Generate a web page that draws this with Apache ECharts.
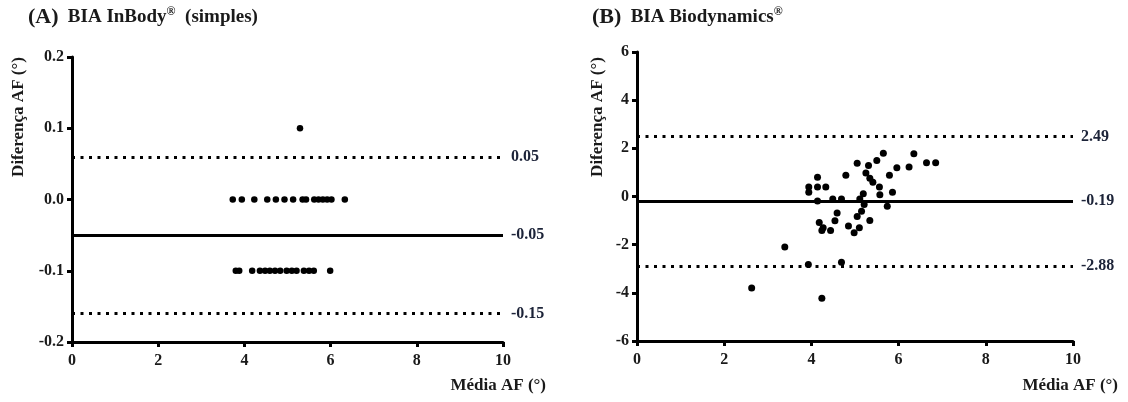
<!DOCTYPE html>
<html>
<head>
    <meta charset="utf-8">
    <title>Bland-Altman AF</title>
    <script src="https://cdn.jsdelivr.net/npm/echarts@6/dist/echarts.min.js"></script>
    <style>
        html, body { margin: 0; padding: 0; background: #fff; }
        #chart1 { width: 1128px; height: 402px; }
    </style>
</head>
<body>
<div id="chart1"></div>
<script type="text/javascript">
    // (A) InBody: media x diferenca
    var aX = [3.73, 3.94, 4.23, 4.53, 4.73, 4.93, 5.13, 5.35, 5.43, 5.62, 5.72, 5.82, 5.92, 6.02, 6.33,
              3.80, 3.88, 4.18, 4.36, 4.48, 4.59, 4.71, 4.83, 4.98, 5.10, 5.21, 5.38, 5.50, 5.61, 5.99,
              5.29];
    var aY = [0, 0, 0, 0, 0, 0, 0, 0, 0, 0, 0, 0, 0, 0, 0,
              -0.1, -0.1, -0.1, -0.1, -0.1, -0.1, -0.1, -0.1, -0.1, -0.1, -0.1, -0.1, -0.1, -0.1, -0.1,
              0.1];
    var aLines = [0.056, -0.05, -0.157];
    var aLineLabels = ['0.05', '-0.05', '-0.15'];

    // (B) Biodynamics
    var bX = [6.85, 6.64, 6.35, 6.24, 5.96, 5.79, 5.65, 5.50, 5.31, 5.05, 4.79, 5.25, 5.34, 5.41, 5.56,
              5.86, 5.57, 5.19, 5.11, 5.21, 5.15, 5.05, 5.34, 5.74, 5.10, 4.98, 4.85, 4.69, 4.49, 4.14,
              4.59, 4.54, 4.44, 4.27, 4.24, 4.18, 4.14, 4.14, 4.33, 3.94, 3.94, 3.39, 3.93, 4.69, 2.63,
              4.24];
    var bY = [1.40, 1.40, 1.78, 1.22, 1.19, 0.88, 1.80, 1.49, 1.29, 1.38, 0.88, 0.98, 0.76, 0.59, 0.39,
              0.18, 0.07, 0.11, -0.10, -0.33, -0.61, -0.83, -1.00, -0.41, -1.30, -1.51, -1.22, -0.10, -0.10, -0.19,
              -0.69, -1.01, -1.41, -1.30, -1.41, -1.08, 0.80, 0.39, 0.39, 0.39, 0.18, -2.10, -2.82, -2.73, -3.80,
              -4.22];
    var bLines = [2.49, -0.19, -2.88];
    var bLineLabels = ['2.49', '-0.19', '-2.88'];

    var xTicks = [0, 10, 2];

    function pairs(xs, ys) {
        return xs.map(function (v, i) { return [v, ys[i]]; });
    }

    var serif = '"Liberation Serif", "Times New Roman", serif';
    var txt = '#1a1a1a';

    function markLines(vals, labels) {
        return {
            symbol: 'none',
            silent: true,
            animation: false,
            label: {
                position: 'end', distance: 8, color: '#1c2338',
                fontFamily: serif, fontWeight: 'bold', fontSize: 16,
                formatter: function (p) { return labels[p.dataIndex]; }
            },
            data: vals.map(function (v, i) {
                return {
                    yAxis: v,
                    lineStyle: i === 1
                        ? { color: '#000', width: 3, type: 'solid' }
                        : { color: '#000', width: 3, type: [3, 5.5] }
                };
            })
        };
    }

    function xAxisCfg(idx) {
        return {
            gridIndex: idx, type: 'value', min: xTicks[0], max: xTicks[1], interval: xTicks[2],
            axisLine: { onZero: false, lineStyle: { color: '#000', width: 3 } },
            axisTick: { length: 5, lineStyle: { color: '#000', width: 3 } },
            axisLabel: { color: txt, fontFamily: serif, fontWeight: 'bold', fontSize: 16, margin: 11 },
            splitLine: { show: false }
        };
    }

    function yAxisCfg(idx, min, max, step, dec) {
        return {
            gridIndex: idx, type: 'value', min: min, max: max, interval: step,
            axisLine: { onZero: false, lineStyle: { color: '#000', width: 3 } },
            axisTick: { length: 5, lineStyle: { color: '#000', width: 3 } },
            axisLabel: {
                color: txt, fontFamily: serif, fontWeight: 'bold', fontSize: 16, margin: 8,
                formatter: function (v) { return v.toFixed(dec); }
            },
            splitLine: { show: false }
        };
    }

    var titleRich = {
        p: { fontFamily: serif, fontWeight: 'bold', fontSize: 22, fill: txt, padding: [0, 6, 0, 0] },
        b: { fontFamily: serif, fontWeight: 'bold', fontSize: 19, fill: txt },
        s: { fontFamily: serif, fontWeight: 'bold', fontSize: 12, fill: txt, verticalAlign: 'top', padding: [0, 0, 10, 0] }
    };

    var myChart1 = echarts.init(document.getElementById('chart1'));
    myChart1.setOption({
        animation: false,
        backgroundColor: '#fff',
        grid: [
            { left: 72, right: 625, top: 57, bottom: 60 },
            { left: 637, right: 55, top: 52, bottom: 61 }
        ],
        xAxis: [xAxisCfg(0), xAxisCfg(1)],
        yAxis: [yAxisCfg(0, -0.2, 0.2, 0.1, 1), yAxisCfg(1, -6, 6, 2, 0)],
        graphic: [
            {
                type: 'text', left: 28, top: 6,
                style: { text: '{p|(A)} {b|BIA InBody}{s|®}{b|  (simples)}', rich: titleRich }
            },
            {
                type: 'text', left: 592, top: 6,
                style: { text: '{p|(B)} {b|BIA Biodynamics}{s|®}', rich: titleRich }
            },
            {
                type: 'text', x: 19, y: 117, rotation: Math.PI / 2,
                style: { text: 'Diferença AF (°)', fontFamily: serif, fontWeight: 'bold', fontSize: 17, fill: txt, align: 'center', verticalAlign: 'middle' }
            },
            {
                type: 'text', x: 598, y: 117, rotation: Math.PI / 2,
                style: { text: 'Diferença AF (°)', fontFamily: serif, fontWeight: 'bold', fontSize: 17, fill: txt, align: 'center', verticalAlign: 'middle' }
            },
            {
                type: 'text', x: 546, y: 386,
                style: { text: 'Média AF (°)', fontFamily: serif, fontWeight: 'bold', fontSize: 17, fill: txt, align: 'right', verticalAlign: 'middle' }
            },
            {
                type: 'text', x: 1118, y: 386,
                style: { text: 'Média AF (°)', fontFamily: serif, fontWeight: 'bold', fontSize: 17, fill: txt, align: 'right', verticalAlign: 'middle' }
            }
        ],
        series: [
            {
                name: 'InBody', type: 'scatter', xAxisIndex: 0, yAxisIndex: 0,
                symbolSize: 6.5, itemStyle: { color: '#000', opacity: 1 },
                data: pairs(aX, aY),
                markLine: markLines(aLines, aLineLabels)
            },
            {
                name: 'Biodynamics', type: 'scatter', xAxisIndex: 1, yAxisIndex: 1,
                symbolSize: 7, itemStyle: { color: '#000', opacity: 1 },
                data: pairs(bX, bY),
                markLine: markLines(bLines, bLineLabels)
            }
        ]
    });
</script>
</body>
</html>
